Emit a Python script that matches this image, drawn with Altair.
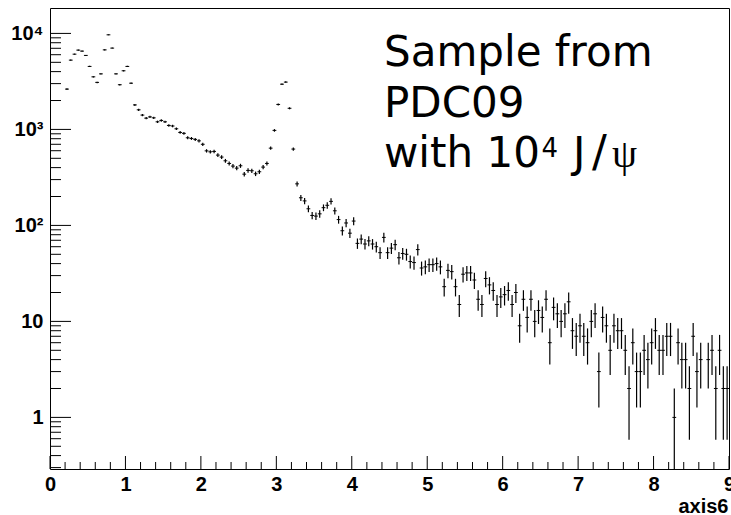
import math
import altair as alt
import pandas as pd

# ---------------- data (histogram, bin width 0.05, first filled bin starts at 0.2) ----------------
BIN_START = 0.2
BIN_WIDTH = 0.05

counts_0p2_2p0 = [2630, 5270, 6080, 6700, 6540, 5900, 4530, 3530, 3090, 3790,
                  6740, 9670, 7030, 3790, 2920, 4080, 4530, 3030, 1800, 1600,
                  1410, 1310, 1350, 1320, 1200, 1240, 1200, 1100, 1085, 1015,
                  930, 910, 818, 805, 787, 760]
counts_2p0_4p0 = [700, 598, 584, 590, 540, 515, 471, 442, 415, 395,
                  418, 342, 374, 371, 345, 362, 405, 442, 638, 977,
                  1820, 2960, 3110, 1660, 624, 271, 194, 180, 149, 127,
                  125, 132, 153, 162, 178, 142, 115, 88, 106, 83]
counts_4p0_6p0 = [111, 65, 72, 64, 69, 64, 60, 52, 75, 52,
                  58, 63, 46, 51, 50, 42, 41, 56, 36, 37,
                  39, 39, 40, 37, 23, 34, 33, 23, 15, 31,
                  32, 32, 27, 17, 15, 28, 24, 21, 15, 18]
counts_6p0_8p0 = [19, 21, 15, 20, 9, 17, 11, 17, 10, 13,
                  11, 17, 6, 14, 12, 10, 12, 16, 8, 7,
                  9, 7, 6, 10, 12, 3, 11, 9, 5, 9,
                  8, 8, 5, 2, 6, 3, 3, 5, 4, 6]
counts_8p0_9p0 = [8, 5, 5, 7, 7, 1, 6, 4, 4, 2,
                  7, 3, 4, 0, 4, 5, 2, 5, 2, 2]

x_major_ticks = [0, 1, 2, 3, 4, 5, 6, 7, 8, 9]
x_minor_ticks = [round(i * 0.2, 1) for i in range(46) if i % 5 != 0]
y_major_ticks = [1, 10, 100, 1000, 10000]
y_minor_ticks = [m * 10.0 ** e for e in range(-1, 4) for m in range(2, 10)]
y_minor_ticks = [v for v in y_minor_ticks if v >= 0.29]

annotation_lines = ["Sample from", "PDC09"]

# ---------------- table ----------------
counts = counts_0p2_2p0 + counts_2p0_4p0 + counts_4p0_6p0 + counts_6p0_8p0 + counts_8p0_9p0
rows = []
for i, n in enumerate(counts):
    if n <= 0:
        continue
    lo_edge = BIN_START + i * BIN_WIDTH
    err = math.sqrt(n)
    rows.append({
        "xlo": lo_edge,
        "xhi": lo_edge + BIN_WIDTH,
        "x": lo_edge + BIN_WIDTH / 2,
        "n": n,
        "lo": max(n - err, 1e-3),
        "hi": n + err,
    })
df = pd.DataFrame(rows)

W, H = 679, 461
xs = alt.Scale(domain=[0, 9], nice=False, zero=False)
ys = alt.Scale(type="log", domain=[0.29, 18400], nice=False, clamp=True)

LABEL_FONT = "Liberation Sans"

xaxis = alt.Axis(values=x_major_ticks, ticks=False, domain=False, grid=False,
                 labelFont=LABEL_FONT, labelFontSize=20, labelFontWeight="bold",
                 labelColor="black", labelPadding=5, labelFlush=False,
                 title="axis6", titleFont=LABEL_FONT, titleFontSize=20,
                 titleFontWeight="bold", titleColor="black", titleAlign="right",
                 titleX=678, titleY=43, titleBaseline="alphabetic")
yaxis = alt.Axis(values=y_major_ticks, ticks=False, domain=False, grid=False,
                 labelExpr="datum.value == 1 ? '1' : datum.value == 10 ? '10' : "
                           "datum.value == 100 ? '10\u00b2' : datum.value == 1000 ? '10\u00b3' : '10\u2074'",
                 labelFont=LABEL_FONT, labelFontSize=20, labelFontWeight="bold",
                 labelColor="black", labelPadding=7, labelFlush=False, title=None)

horiz = alt.Chart(df).mark_rule(color="black", strokeWidth=1).encode(
    x=alt.X("xlo:Q", scale=xs, axis=xaxis),
    x2="xhi:Q",
    y=alt.Y("n:Q", scale=ys, axis=yaxis),
)
vert = alt.Chart(df).mark_rule(color="black", strokeWidth=1.2).encode(
    x=alt.X("x:Q", scale=xs, axis=xaxis),
    y=alt.Y("lo:Q", scale=ys, axis=yaxis),
    y2="hi:Q",
)

def xticks(vals, length):
    return alt.Chart(pd.DataFrame({"t": vals})).mark_rule(color="black", strokeWidth=1).encode(
        x=alt.X("t:Q", scale=xs, axis=xaxis),
        y=alt.value(H),
        y2=alt.value(H - length),
    )

def yticks(vals, length):
    return alt.Chart(pd.DataFrame({"t": vals})).mark_rule(color="black", strokeWidth=1).encode(
        y=alt.Y("t:Q", scale=ys, axis=yaxis),
        x=alt.value(0),
        x2=alt.value(length),
    )

one = pd.DataFrame({"k": [0]})

def label(text, x, y, size, font="DejaVu Sans"):
    return alt.Chart(one).mark_text(text=text, font=font, fontSize=size, align="left",
                                    baseline="alphabetic", color="black").encode(
        x=alt.value(x), y=alt.value(y))

texts = [
    label(annotation_lines[0], 334, 57.7, 42),
    label(annotation_lines[1], 334, 108.7, 42),
    label("with 10", 334, 158.7, 42),
    label("4", 491.5, 149.3, 26),
    label("J", 523, 158.7, 42),
    label("/", 542, 158.7, 44),
    label("\u03c8", 562, 158.7, 40, font="Liberation Serif"),
]

chart = alt.layer(
    horiz, vert,
    xticks(x_major_ticks, 13), xticks(x_minor_ticks, 7),
    yticks(y_major_ticks, 21), yticks(y_minor_ticks, 11),
    *texts,
).properties(
    width=W, height=H,
    autosize=alt.AutoSizeParams(type="none"),
    padding={"left": 50, "top": 8, "right": 2, "bottom": 46},
    background="white",
).configure_view(stroke="black", strokeWidth=1)

chart.save("out.html", embed_options={"renderer": "svg", "actions": False})
